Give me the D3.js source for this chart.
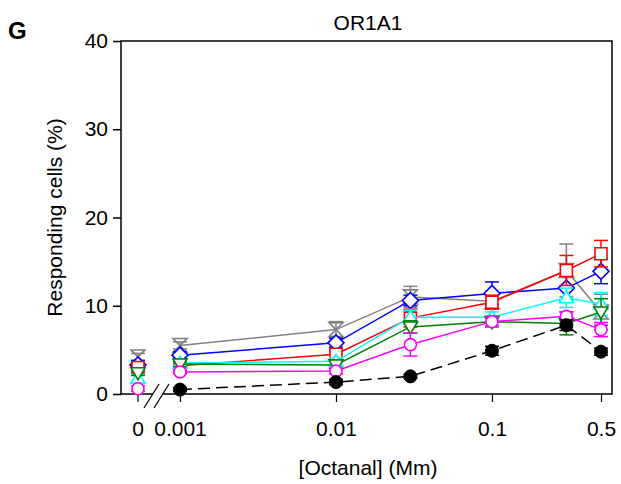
<!DOCTYPE html>
<html><head><meta charset="utf-8">
<script src="https://cdn.jsdelivr.net/npm/d3@7"></script>
<style>body{margin:0;background:#fff}svg{display:block}text{font-family:"Liberation Sans",Arial,sans-serif}</style>
</head><body><svg id="c" width="621" height="484"></svg>
<script>
const concentrations = [0, 0.001, 0.01, 0.03, 0.1, 0.3, 0.5];
const xTickValues = [0, 0.001, 0.01, 0.1, 0.5];
const xTickLabels = ["0", "0.001", "0.01", "0.1", "0.5"];
const yTickValues = [0, 10, 20, 30, 40];
const seriesNames = ["gray", "blue", "red", "cyan", "green", "magenta", "control"];
const grayMeans    = [4.2, 5.5, 7.3, 11.0, 10.5, 14.0, 9.3];
const grayErr      = [0.4, 0.4, 0.9, 1.2, 0.9, 3.0, 2.0];
const blueMeans    = [3.3, 4.4, 5.8, 10.6, 11.4, 12.0, 13.9];
const blueErr      = [0.5, 0.4, 0.5, 0.6, 1.3, 1.4, 1.4];
const redMeans     = [3.0, 3.2, 4.5, 8.6, 10.4, 14.0, 15.9];
const redErr       = [0.4, 0.5, 0.5, 1.0, 0.8, 1.7, 1.5];
const cyanMeans    = [1.8, 3.5, 3.7, 8.7, 8.7, 10.9, 10.2];
const cyanErr      = [0.4, 0.3, 0.4, 0.8, 0.6, 1.1, 1.3];
const greenMeans   = [2.4, 3.4, 3.3, 7.6, 8.2, 8.0, 9.3];
const greenErr     = [0.3, 0.3, 0.4, 0.7, 0.6, 1.3, 1.5];
const magentaMeans = [0.6, 2.5, 2.6, 5.6, 8.2, 8.8, 7.3];
const magentaErr   = [0.3, 0.2, 0.3, 1.3, 0.5, 0.5, 0.8];
const controlMeans = [null, 0.5, 1.35, 2.0, 4.9, 7.8, 4.8];
const controlErr   = [null, 0.2, 0.3, 0.2, 0.5, 0.6, 0.4];

const svg = d3.select("#c");
const L = 121, R = 612, T = 41, B = 394;
const xLog = d3.scaleLog().domain([0.001, 0.5]).range([180, 601]);
const xZero = 138;
const xp = v => v === 0 ? xZero : xLog(v);
const y = d3.scaleLinear().domain([0, 40]).range([B, T]);

const series = [
  {name: seriesNames[0], color: "#808080", means: grayMeans, err: grayErr, shape: "hourglass"},
  {name: seriesNames[1], color: "#0000ff", means: blueMeans, err: blueErr, shape: "diamond"},
  {name: seriesNames[2], color: "#ff0000", means: redMeans, err: redErr, shape: "square"},
  {name: seriesNames[3], color: "#00ffff", means: cyanMeans, err: cyanErr, shape: "triup"},
  {name: seriesNames[4], color: "#008000", means: greenMeans, err: greenErr, shape: "tridown"},
  {name: seriesNames[5], color: "#ff00ff", means: magentaMeans, err: magentaErr, shape: "circle"},
  {name: seriesNames[6], color: "#000000", means: controlMeans, err: controlErr, shape: "filled", dash: "12,6"}
];

// frame
svg.append("rect").attr("x", L).attr("y", T).attr("width", R - L).attr("height", B - T)
  .attr("fill", "none").attr("stroke", "#000").attr("stroke-width", 1.5);

// y axis
const yAxis = d3.axisLeft(y).tickValues(yTickValues).tickSize(8).tickPadding(5);
const gy = svg.append("g").attr("transform", `translate(${L},0)`).call(yAxis);
gy.select(".domain").remove();
gy.selectAll("line").attr("stroke-width", 1.5);
gy.selectAll("text").attr("font-size", 21).attr("fill", "#000");

// x axis (log part)
const xAxis = d3.axisBottom(xLog).tickValues(xTickValues.slice(1))
  .tickFormat((d, i) => xTickLabels[i + 1]).tickSize(8).tickPadding(19);
const gx = svg.append("g").attr("transform", `translate(0,${B})`).call(xAxis);
gx.select(".domain").remove();
gx.selectAll("line").attr("stroke-width", 1.2);
gx.selectAll("text").attr("font-size", 21).attr("fill", "#000");
// zero tick
const gz = svg.append("g").attr("transform", `translate(${xZero},${B})`);
gz.append("line").attr("y2", 8).attr("stroke", "#000").attr("stroke-width", 1.2);
gz.append("text").attr("y", 27).attr("dy", "0.71em").attr("text-anchor", "middle")
  .attr("font-size", 21).text(xTickLabels[0]);

// axis break
const bx = 155;
svg.append("polygon").attr("points", `${bx-11},${B+14} ${bx-1},${B+14} ${bx+14},${B-10} ${bx+4},${B-10}`).attr("fill", "#fff");
svg.append("line").attr("x1", bx-11).attr("y1", B+14).attr("x2", bx+4).attr("y2", B-10).attr("stroke", "#000").attr("stroke-width", 1.2);
svg.append("line").attr("x1", bx-1).attr("y1", B+14).attr("x2", bx+14).attr("y2", B-10).attr("stroke", "#000").attr("stroke-width", 1.2);

function markerPath(shape) {
  const s = 6;
  switch (shape) {
    case "square": return `M${-s},${-s}H${s}V${s}H${-s}Z`;
    case "diamond": return `M0,${-8}L8,0L0,8L-8,0Z`;
    case "triup": return `M0,${-7}L7,5L-7,5Z`;
    case "tridown": return `M0,7L7,-5L-7,-5Z`;
    case "hourglass": return `M-7,-7L7,-7L-7,7L7,7Z`;
    default: return null;
  }
}

const line = d3.line().defined(d => d.m != null).x(d => xp(d.c)).y(d => y(d.m));
const plot = svg.append("g");
series.forEach(s => {
  const pts = concentrations.map((c, i) => ({c, m: s.means[i], e: s.err[i]}));
  const g = plot.append("g");
  g.append("path").datum(pts.filter(p => p.c > 0))
    .attr("d", line).attr("fill", "none").attr("stroke", s.color).attr("stroke-width", 1.5)
    .attr("stroke-dasharray", s.dash || null);
  pts.filter(p => p.m != null).forEach(p => {
    const cx = xp(p.c), cy = y(p.m), y1 = y(p.m + p.e), y2 = y(p.m - p.e);
    g.append("line").attr("x1", cx).attr("x2", cx).attr("y1", y1).attr("y2", y2).attr("stroke", s.color).attr("stroke-width", 1.5);
    [y1, y2].forEach(yy => g.append("line").attr("x1", cx - 7).attr("x2", cx + 7).attr("y1", yy).attr("y2", yy).attr("stroke", s.color).attr("stroke-width", 1.5));
    if (s.shape === "circle") {
      g.append("circle").attr("cx", cx).attr("cy", cy).attr("r", 6).attr("fill", "#fff").attr("stroke", s.color).attr("stroke-width", 1.6);
    } else if (s.shape === "filled") {
      g.append("circle").attr("cx", cx).attr("cy", cy).attr("r", 6.5).attr("fill", "#000").attr("stroke", "#000");
    } else {
      g.append("path").attr("d", markerPath(s.shape)).attr("transform", `translate(${cx},${cy})`)
        .attr("fill", s.shape === "hourglass" ? "none" : "#fff").attr("stroke", s.color).attr("stroke-width", 1.6);
    }
  });
});

// texts
svg.append("text").attr("x", 368).attr("y", 30).attr("text-anchor", "middle").attr("font-size", 21).text("OR1A1");
svg.append("text").attr("x", 8).attr("y", 39).attr("font-size", 24).attr("font-weight", "bold").text("G");
svg.append("text").attr("transform", `translate(62,${(T + B) / 2}) rotate(-90)`).attr("text-anchor", "middle").attr("font-size", 21).text("Responding cells (%)");
svg.append("text").attr("x", 368).attr("y", 475).attr("text-anchor", "middle").attr("font-size", 21).text("[Octanal] (Mm)");
</script></body></html>
